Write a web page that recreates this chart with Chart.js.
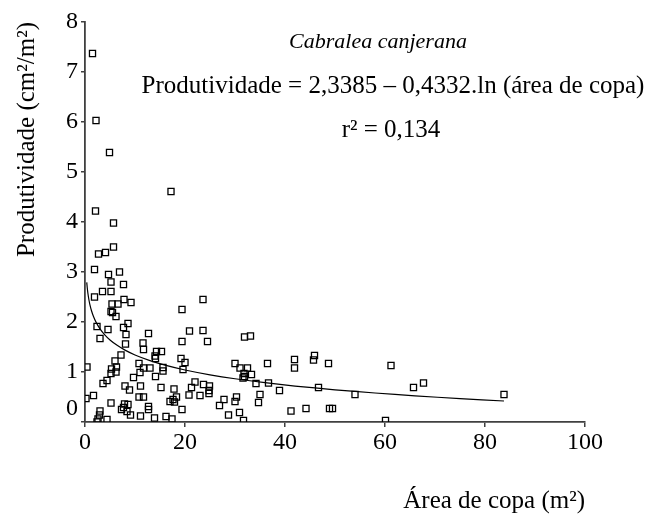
<!DOCTYPE html>
<html>
<head>
<meta charset="utf-8">
<script src="https://cdn.jsdelivr.net/npm/chart.js@4"></script>
<style>
  html, body { margin: 0; padding: 0; background: #ffffff; }
  #wrap { width: 650px; height: 518px; }
</style>
</head>
<body>
<div id="wrap"><canvas id="c" width="650" height="518"></canvas></div>
<script>
// Crown area (m²) of each tree
const areaCopa = [
  1.5, 2.2, 4.9, 17.2, 2.1, 5.7, 5.7, 4.1, 2.7, 1.9,
  6.9, 4.7, 5.2, 7.7, 3.5, 5.2, 1.9, 7.8, 9.2, 5.4,
  6.6, 5.2, 5.5, 6.2, 19.4, 8.6, 2.4, 7.7, 4.6, 20.9,
  8.2, 12.7, 3.0, 11.6, 8.1, 19.4, 11.7, 14.3, 15.3, 14.0,
  14.1, 7.2, 6.0, 19.2, 20.0, 0.4, 10.8, 6.3, 5.3, 5.2,
  6.2, 11.7, 13.0, 15.6, 15.6, 19.6, 11.0, 14.1, 9.7, 4.4,
  3.6, 22.0, 8.0, 11.1, 8.9, 15.2, 17.8, 21.3, 20.8, 1.7,
  0.2, 10.8, 11.7, 18.3, 17.0, 17.9, 17.6, 23.0, 5.2, 7.9,
  8.6, 12.7, 12.7, 7.3, 7.7, 8.4, 9.1, 19.4, 3.0, 2.9,
  2.6, 2.4, 4.4, 11.1, 13.9, 16.2, 17.4, 23.6, 23.6, 24.5,
  31.9, 33.1, 30.0, 31.0, 32.5, 31.8, 31.9, 31.6, 33.3, 34.2,
  36.5, 36.7, 38.9, 35.0, 34.7, 41.9, 41.9, 45.9, 45.7, 48.7,
  46.7, 54.0, 61.2, 65.7, 67.7, 41.2, 44.2, 48.9, 49.5, 60.1,
  83.8, 23.7, 24.9, 24.8, 24.8, 27.8, 26.9, 30.3, 30.0, 28.7,
  30.9, 31.7
];

// Productivity (cm²/m²) of the same trees
const produtividade = [
  7.37, 6.03, 5.39, 4.61, 4.22, 3.98, 3.50, 3.39, 3.36, 3.05,
  3.00, 2.95, 2.80, 2.75, 2.61, 2.61, 2.50, 2.45, 2.39, 2.36,
  2.36, 2.21, 2.19, 2.11, 2.25, 1.97, 1.91, 1.89, 1.85, 1.82,
  1.75, 1.77, 1.67, 1.58, 1.56, 1.61, 1.45, 1.41, 1.41, 1.32,
  1.27, 1.34, 1.22, 1.27, 1.19, 1.10, 1.17, 1.10, 1.06, 0.97,
  1.00, 1.08, 1.08, 1.09, 1.02, 1.05, 0.99, 0.91, 0.89, 0.83,
  0.77, 0.80, 0.72, 0.72, 0.64, 0.69, 0.66, 0.69, 0.54, 0.53,
  0.47, 0.50, 0.50, 0.50, 0.41, 0.40, 0.45, 0.53, 0.38, 0.36,
  0.35, 0.31, 0.25, 0.25, 0.29, 0.21, 0.14, 0.25, 0.22, 0.14,
  0.06, 0.00, 0.05, 0.12, 0.08, 0.11, 0.06, 1.83, 2.45, 1.61,
  1.70, 1.72, 1.17, 1.08, 1.08, 0.97, 0.91, 0.88, 0.95, 0.77,
  1.17, 0.78, 0.63, 0.55, 0.39, 1.25, 1.08, 1.33, 1.24, 1.17,
  0.69, 0.55, 1.13, 0.69, 0.78, 0.22, 0.27, 0.27, 0.27, 0.03,
  0.55, 0.75, 0.72, 0.63, 0.57, 0.45, 0.33, 0.50, 0.41, 0.14,
  0.19, 0.03
];

// Logarithmic fit: Produtividade = a - b·ln(área de copa)
const coefA = 2.3385;
const coefB = 0.4332;
const trendX = [0.35, 0.45, 0.6, 0.8, 1, 1.3, 1.7, 2.2, 3, 4, 5, 6.5, 8, 10, 13,
                16, 20, 25, 30, 36, 42, 50, 58, 66, 75, 83.8];

const xTicks = [0, 20, 40, 60, 80, 100];
const yTicks = [0, 1, 2, 3, 4, 5, 6, 7, 8];

const speciesName = 'Cabralea canjerana';
const equationText = 'Produtividade = 2,3385 – 0,4332.ln (área de copa)';
const r2Text = 'r² = 0,134';
const xTitle = 'Área de copa (m²)';
const yTitle = 'Produtividade (cm²/m²)';

const SERIF = "'Liberation Serif', 'Times New Roman', serif";
const AXIS_COLOR = '#404040';

const points = areaCopa.map((x, i) => ({ x: x, y: produtividade[i] }));
const trend = trendX.map(x => ({ x: x, y: coefA - coefB * Math.log(x) }));

// Free text inside the plot and the lowered "0" label of the y axis
const textPlugin = {
  id: 'annotText',
  afterDraw(chart) {
    const ctx = chart.ctx;
    const ys = chart.scales.y;
    ctx.save();
    ctx.fillStyle = '#000';
    ctx.textBaseline = 'middle';
    ctx.textAlign = 'center';
    ctx.font = 'italic 22px ' + SERIF;
    ctx.fillText(speciesName, 378, 42);
    ctx.font = '25px ' + SERIF;
    ctx.fillText(equationText, 393, 86);
    ctx.fillText(r2Text, 391, 130);
    // zero label sits a little above the x axis
    ctx.textAlign = 'right';
    ctx.font = '24px ' + SERIF;
    ctx.fillText(String(yTicks[0]), ys.right - 7, ys.getPixelForValue(yTicks[0]) - 13);
    ctx.restore();
  }
};

new Chart(document.getElementById('c'), {
  type: 'scatter',
  data: {
    datasets: [
      {
        label: 'Produtividade',
        data: points,
        pointStyle: 'rect',
        pointRadius: 4.3,
        pointBorderWidth: 1.3,
        pointBorderColor: '#000',
        pointBackgroundColor: 'rgba(0,0,0,0)',
        showLine: false,
        order: 2
      },
      {
        label: 'Ajuste',
        data: trend,
        showLine: true,
        borderColor: '#000',
        borderWidth: 1.2,
        pointRadius: 0,
        tension: 0.2,
        fill: false,
        order: 1
      }
    ]
  },
  options: {
    responsive: false,
    animation: false,
    layout: { padding: { left: 0, right: 65, top: 22, bottom: 0 } },
    plugins: { legend: { display: false }, tooltip: { enabled: false } },
    scales: {
      x: {
        type: 'linear',
        min: xTicks[0],
        max: xTicks[xTicks.length - 1],
        afterBuildTicks(s) { s.ticks = xTicks.map(v => ({ value: v })); },
        afterFit(s) { s.height = 96; },
        ticks: { font: { family: SERIF, size: 24 }, color: '#000', padding: 1, maxRotation: 0 },
        grid: { display: true, drawOnChartArea: false, drawTicks: true, tickLength: 5, color: AXIS_COLOR, lineWidth: 1.5 },
        border: { display: true, color: AXIS_COLOR, width: 1.8 },
        title: { display: true, text: xTitle, align: 'end', color: '#000',
                 font: { family: SERIF, size: 25 }, padding: { top: 0, bottom: 2 } }
      },
      y: {
        type: 'linear',
        min: yTicks[0],
        max: yTicks[yTicks.length - 1],
        afterBuildTicks(s) { s.ticks = yTicks.map(v => ({ value: v })); },
        afterFit(s) { s.width = 85; },
        ticks: { font: { family: SERIF, size: 24 }, color: '#000', padding: 3,
                 callback: v => (v === yTicks[0] ? '' : String(v)) },
        grid: { display: true, drawOnChartArea: false, drawTicks: true, tickLength: 4, color: AXIS_COLOR, lineWidth: 1.5 },
        border: { display: true, color: AXIS_COLOR, width: 1.8 },
        title: { display: true, text: yTitle, align: 'end', color: '#000',
                 font: { family: SERIF, size: 25 }, padding: { top: 12, bottom: 0 } }
      }
    }
  },
  plugins: [textPlugin]
});
</script>
</body>
</html>
